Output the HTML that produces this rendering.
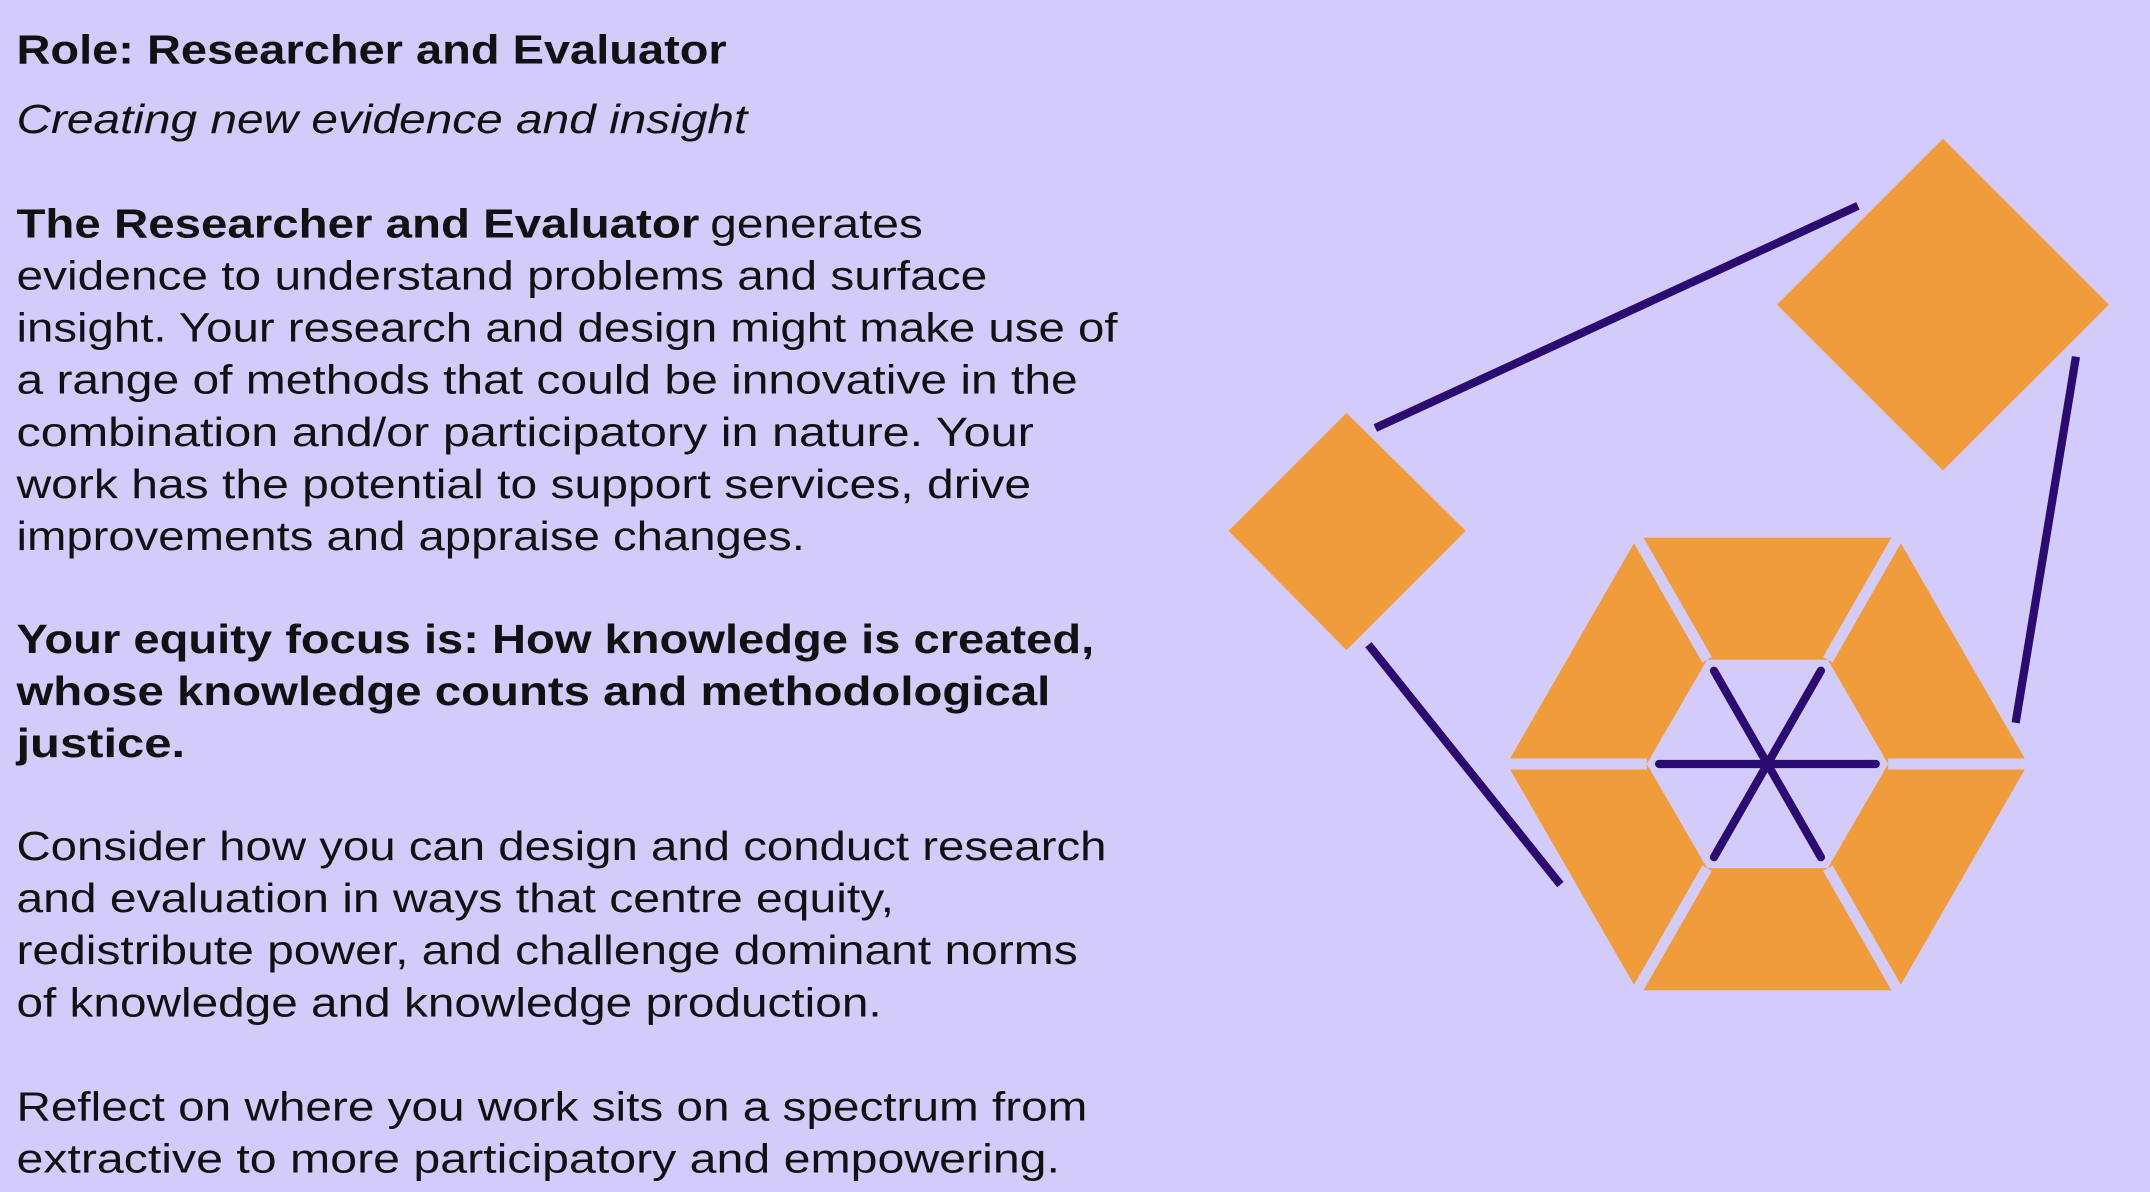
<!DOCTYPE html>
<html><head><meta charset="utf-8"><style>
html,body{margin:0;padding:0;background:#d3cbfa;}
svg{display:block;}
text{font-family:"Liberation Sans",sans-serif;font-size:30px;fill:#111;}
.b{font-weight:bold;}
</style></head><body>
<svg width="2150" height="1192" viewBox="0 0 1568 869" xmlns="http://www.w3.org/2000/svg">
<rect width="1568" height="869" fill="#d3cbfa"/>
<text x="12" y="46" class="b" textLength="518" lengthAdjust="spacingAndGlyphs">Role: Researcher and Evaluator</text>
<text x="12" y="97" font-style="italic" textLength="533" lengthAdjust="spacingAndGlyphs">Creating new evidence and insight</text>
<text x="12" y="173" class="b" textLength="498" lengthAdjust="spacingAndGlyphs">The Researcher and Evaluator</text>
<text x="518" y="173" textLength="155" lengthAdjust="spacingAndGlyphs">generates</text>
<text x="12" y="211" textLength="708" lengthAdjust="spacingAndGlyphs">evidence to understand problems and surface</text>
<text x="12" y="249" textLength="803" lengthAdjust="spacingAndGlyphs">insight. Your research and design might make use of</text>
<text x="12" y="287" textLength="774" lengthAdjust="spacingAndGlyphs">a range of methods that could be innovative in the</text>
<text x="12" y="325" textLength="742" lengthAdjust="spacingAndGlyphs">combination and/or participatory in nature. Your</text>
<text x="12" y="363" textLength="740" lengthAdjust="spacingAndGlyphs">work has the potential to support services, drive</text>
<text x="12" y="401" textLength="575" lengthAdjust="spacingAndGlyphs">improvements and appraise changes.</text>
<text x="12" y="476" class="b" textLength="786" lengthAdjust="spacingAndGlyphs">Your equity focus is: How knowledge is created,</text>
<text x="12" y="514" class="b" textLength="754" lengthAdjust="spacingAndGlyphs">whose knowledge counts and methodological</text>
<text x="12" y="552" class="b" textLength="123" lengthAdjust="spacingAndGlyphs">justice.</text>
<text x="12" y="627" textLength="795" lengthAdjust="spacingAndGlyphs">Consider how you can design and conduct research</text>
<text x="12" y="665" textLength="640" lengthAdjust="spacingAndGlyphs">and evaluation in ways that centre equity,</text>
<text x="12" y="703" textLength="774" lengthAdjust="spacingAndGlyphs">redistribute power, and challenge dominant norms</text>
<text x="12" y="741" textLength="631" lengthAdjust="spacingAndGlyphs">of knowledge and knowledge production.</text>
<text x="12" y="817" textLength="781" lengthAdjust="spacingAndGlyphs">Reflect on where you work sits on a spectrum from</text>
<text x="12" y="855" textLength="761" lengthAdjust="spacingAndGlyphs">extractive to more participatory and empowering.</text>

<g stroke="#2b0a72" stroke-width="6" stroke-linecap="butt">
<line x1="1003" y1="312" x2="1355" y2="150"/>
<line x1="1514" y1="260" x2="1470" y2="527"/>
<line x1="998" y1="470" x2="1138" y2="645"/>
</g>
<polygon points="982,301 1069,387 982,474 896,387" fill="#f09c3a"/>
<polygon points="1417,101 1538,222 1417,343 1296,222" fill="#f09c3a"/>
<path fill="#f09c3a" fill-rule="evenodd" d="M1099,557 L1194,392 L1384,392 L1479,557 L1384,722 L1194,722 Z M1201,557 L1245,481 L1333,481 L1377,557 L1333,633 L1245,633 Z"/>
<g stroke="#d3cbfa" stroke-width="8">
<line x1="1099" y1="557" x2="1201" y2="557"/>
<line x1="1377" y1="557" x2="1479" y2="557"/>
<line x1="1194" y1="392" x2="1245" y2="481"/>
<line x1="1384" y1="392" x2="1333" y2="481"/>
<line x1="1194" y1="722" x2="1245" y2="633"/>
<line x1="1384" y1="722" x2="1333" y2="633"/>
</g>
<g stroke="#2b0a72" stroke-width="6" stroke-linecap="round">
<line x1="1210" y1="557" x2="1368" y2="557"/>
<line x1="1250" y1="489" x2="1328" y2="625"/>
<line x1="1328" y1="489" x2="1250" y2="625"/>
</g>
</svg>
</body></html>
